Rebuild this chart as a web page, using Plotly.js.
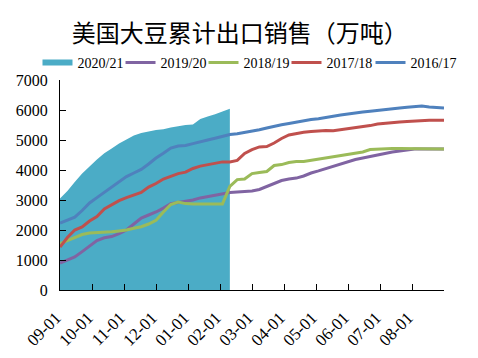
<!DOCTYPE html>
<html>
<head>
<meta charset="utf-8">
<script src="https://cdn.plot.ly/plotly-3.0.1.min.js"></script>
<style>html,body{margin:0;padding:0;background:#fff;}#chart{width:478px;height:358px;}</style>
</head>
<body>
<div id="chart"></div>
<script>
// Weekly cumulative soybean export sales (10k tonnes), marketing year starting Sep 1
var monthLabels = ["09-01","10-01","11-01","12-01","01-01","02-01","03-01","04-01","05-01","06-01","07-01","08-01",""];
var seriesNames = ["2020/21","2019/20","2018/19","2017/18","2016/17"];

var s2020_21 = [3050,3300,3600,3880,4120,4350,4560,4720,4880,5020,5150,5230,5280,5330,5360,5420,5460,5500,5520,5700,5780,5860,5950,6040];
var s2019_20 = [900,1000,1100,1280,1470,1650,1740,1780,1880,2000,2200,2400,2500,2600,2730,2880,2920,2960,3000,3070,3120,3170,3220,3250,3270,3280,3300,3350,3450,3550,3650,3700,3730,3800,3900,3970,4050,4120,4200,4280,4350,4400,4450,4520,4560,4600,4630,4670,4700,4700,4700,4700,4700];
var s2018_19 = [1550,1650,1760,1850,1900,1910,1930,1940,1970,2000,2060,2110,2200,2320,2600,2850,2930,2880,2870,2870,2870,2870,2870,3450,3680,3700,3880,3920,3950,4150,4180,4250,4280,4280,4320,4350,4400,4440,4480,4530,4560,4600,4680,4700,4710,4720,4720,4720,4710,4700,4700,4700,4700];
var s2017_18 = [1430,1750,2000,2100,2300,2450,2700,2850,2980,3080,3170,3250,3430,3550,3700,3800,3880,3930,4050,4130,4180,4230,4270,4270,4320,4550,4680,4770,4780,4900,5050,5170,5220,5260,5280,5300,5320,5310,5340,5370,5420,5450,5480,5530,5560,5580,5600,5620,5640,5650,5660,5660,5660];
var s2016_17 = [2230,2330,2430,2650,2900,3080,3250,3430,3620,3780,3900,4020,4200,4400,4560,4730,4800,4820,4880,4950,5000,5060,5120,5180,5210,5250,5290,5340,5400,5460,5510,5550,5600,5640,5680,5710,5740,5790,5830,5870,5900,5930,5960,5990,6030,6060,6070,6090,6100,6130,6100,6090,6070];

var WEEKS = 52;
function weeks(arr){ return arr.map(function(_, i){ return i; }); }
var tickVals = monthLabels.map(function(_, k){ return k * WEEKS / 12; });

var serif = "Liberation Serif";
var legendIds = ["legend", "legend2", "legend3", "legend4", "legend5"];
var legendX = [-0.0586, 0.1576, 0.3737, 0.5898, 0.8086];

var traces = [
  {x: weeks(s2020_21), y: s2020_21, name: seriesNames[0], type: "scatter", mode: "none",
   fill: "tozeroy", fillcolor: "#4BACC6", legend: legendIds[0]},
  {x: weeks(s2019_20), y: s2019_20, name: seriesNames[1], type: "scatter", mode: "lines",
   line: {color: "#8064A2", width: 3}, legend: legendIds[1]},
  {x: weeks(s2018_19), y: s2018_19, name: seriesNames[2], type: "scatter", mode: "lines",
   line: {color: "#9BBB59", width: 3}, legend: legendIds[2]},
  {x: weeks(s2017_18), y: s2017_18, name: seriesNames[3], type: "scatter", mode: "lines",
   line: {color: "#C0504D", width: 3}, legend: legendIds[3]},
  {x: weeks(s2016_17), y: s2016_17, name: seriesNames[4], type: "scatter", mode: "lines",
   line: {color: "#4F81BD", width: 3}, legend: legendIds[4]}
];

var layout = {
  width: 478, height: 358,
  margin: {l: 60, r: 34, t: 80, b: 68, pad: 0},
  paper_bgcolor: "#ffffff", plot_bgcolor: "#ffffff",
  showlegend: true,
  title: {text: "美国大豆累计出口销售（万吨）", x: 0.15, xref: "container", xanchor: "left",
          y: 0.907, yref: "container", yanchor: "middle",
          font: {family: "Noto Sans CJK SC", size: 24, color: "#000"}},
  xaxis: {range: [0, WEEKS], tickmode: "array", tickvals: tickVals, ticktext: monthLabels,
          tickangle: -45, ticks: "inside", ticklen: 6, tickcolor: "#000", showgrid: false, zeroline: false,
          showline: true, linecolor: "#000", linewidth: 1, ticklabelstandoff: 10, ticklabelshift: -4,
          tickfont: {family: serif, size: 17, color: "#000"}, fixedrange: true},
  yaxis: {range: [0, 7000], dtick: 1000, tick0: 0, ticks: "inside", ticklen: 6, tickcolor: "#000",
          showgrid: false, zeroline: false, showline: true, linecolor: "#000", linewidth: 1,
          ticklabelstandoff: 8,
          tickfont: {family: serif, size: 16, color: "#000"}, fixedrange: true},
  hovermode: false
};

legendIds.forEach(function(id, i){
  layout[id] = {orientation: "h", x: legendX[i], xref: "paper", xanchor: "left",
                y: 1.081, yref: "paper", yanchor: "middle",
                font: {family: serif, size: 14, color: "#000"}, itemwidth: 30,
                bgcolor: "rgba(0,0,0,0)"};
});

Plotly.newPlot("chart", traces, layout, {displayModeBar: false, staticPlot: true});
</script>
</body>
</html>
